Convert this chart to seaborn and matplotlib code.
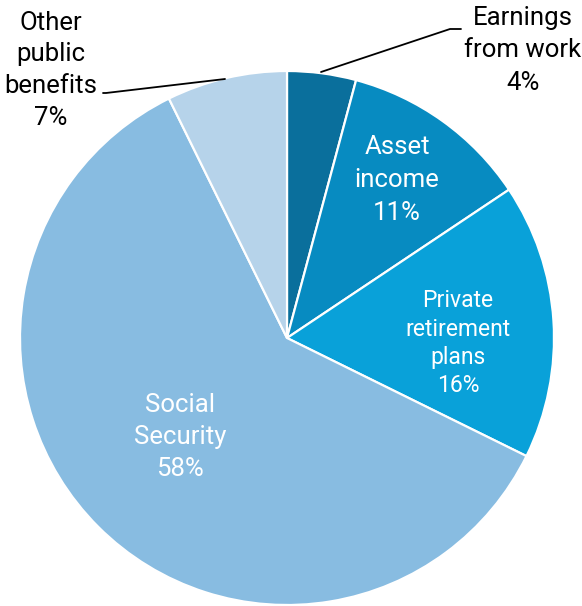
import matplotlib
matplotlib.use("Agg")
import matplotlib.pyplot as plt
import seaborn as sns

# Shares of aggregate income by source (percent)
sources = ["Earnings from work", "Asset income", "Private retirement plans",
           "Social Security", "Other public benefits"]
shares = [4, 11, 16, 58, 7]
label_lines = [["Earnings", "from work"], ["Asset", "income"],
               ["Private", "retirement", "plans"], ["Social", "Security"],
               ["Other", "public", "benefits"]]

colors = ["#0a6f9c", "#078bc1", "#09a1d9", "#88bce1", "#b6d3ea"]

sns.set_theme(style="white")
plt.rcParams["font.family"] = ["Roboto", "DejaVu Sans"]

W, H = 582, 606
fig = plt.figure(figsize=(W / 100, H / 100), dpi=100)
ax = fig.add_axes([0, 0, 1, 1])

cx, cy, r = 287, H - 338, 267
ax.pie(shares, colors=colors, startangle=90, counterclock=False,
       center=(cx, cy), radius=r, frame=True,
       wedgeprops=dict(edgecolor="white", linewidth=1.6))
ax.set_xlim(0, W)
ax.set_ylim(0, H)
ax.set_aspect("equal")
ax.axis("off")


def block(i, x, y_top, step, size, color):
    """Stack the label lines and the percentage, one text per line."""
    lines = label_lines[i] + [f"{shares[i]}%"]
    for k, s in enumerate(lines):
        ax.text(x, H - (y_top + k * step), s, ha="center", va="center_baseline",
                color=color, fontsize=size)


# Labels inside the slices
block(1, 397, 145, 32.5, 18.5, "white")
block(2, 458, 298, 28.5, 16.5, "white")
block(3, 180, 402, 32.5, 18.5, "white")

# Labels outside the pie with leader lines
block(0, 523, 15, 32.5, 18.5, "black")
ax.plot([321, 450, 461], [H - 72, H - 29, H - 29], color="black", lw=1.3)

block(4, 51, 20, 31.7, 18.5, "black")
ax.plot([225, 106, 103], [H - 79, H - 93, H - 93], color="black", lw=1.3)

fig.savefig("out.png", dpi=100, facecolor="white")
